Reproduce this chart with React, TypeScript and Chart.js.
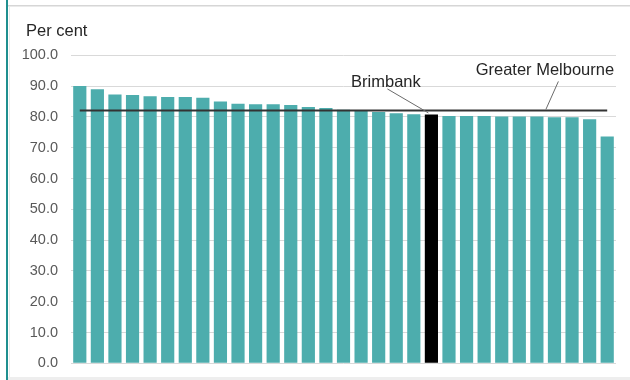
import React, { useEffect, useRef } from "react";
import { Chart, registerables } from "chart.js";

Chart.register(...registerables);

const categories: string[] = Array.from({ length: 31 }, (_, i) => `LGA ${i + 1}`);
categories[20] = "Brimbank";

const values: number[] = [
  90.0, 89.0, 87.3, 87.1, 86.7, 86.5, 86.5, 86.2, 85.0, 84.3, 84.1, 84.1, 83.9,
  83.2, 82.9, 82.3, 82.2, 81.6, 81.2, 80.9, 80.8, 80.3, 80.3, 80.3, 80.1, 80.1,
  80.1, 79.9, 79.9, 79.2, 73.6,
];

const greaterMelbourne = 82.1;
const highlightIndex = 20;
const yTicks: number[] = [0, 10, 20, 30, 40, 50, 60, 70, 80, 90, 100];

const TEAL = "#4DADAD";
const FONT = "'Liberation Sans', Arial, sans-serif";

const framePlugin = {
  id: "frame",
  beforeDraw(chart: any) {
    const ctx = chart.ctx;
    ctx.save();
    ctx.fillStyle = "#ffffff";
    ctx.fillRect(0, 0, chart.width, chart.height);
    ctx.fillStyle = "#d6d6d6";
    ctx.fillRect(7, 5, chart.width - 7, 1.5);
    ctx.strokeStyle = "#ebebeb";
    ctx.lineWidth = 1;
    ctx.beginPath();
    ctx.moveTo(9.5, 7);
    ctx.lineTo(9.5, chart.height - 3);
    ctx.stroke();
    ctx.fillStyle = "#eeeeee";
    ctx.fillRect(7, chart.height - 3, chart.width - 7, 3);
    ctx.fillStyle = "#1F8F8F";
    ctx.fillRect(6, 0, 2, chart.height);
    ctx.fillStyle = "#262626";
    ctx.font = `16.5px ${FONT}`;
    ctx.textAlign = "left";
    ctx.textBaseline = "alphabetic";
    ctx.fillText("Per cent", 26, 35.5);
    ctx.restore();
  },
};

const annotationPlugin = {
  id: "annots",
  afterDatasetsDraw(chart: any) {
    const ctx = chart.ctx;
    const xs = chart.scales.x;
    const ys = chart.scales.y;
    const bx = xs.getPixelForValue(highlightIndex);
    const by = ys.getPixelForValue(values[highlightIndex]);
    const my = ys.getPixelForValue(greaterMelbourne);
    const gx = xs.getPixelForValue(26) + 9;
    ctx.save();
    ctx.strokeStyle = "#6b6b6b";
    ctx.lineWidth = 1;
    ctx.beginPath();
    ctx.moveTo(bx - 44, by - 25.5);
    ctx.lineTo(bx - 3, by - 1.5);
    ctx.stroke();
    ctx.beginPath();
    ctx.moveTo(gx + 12.5, my - 29);
    ctx.lineTo(gx, my - 1);
    ctx.stroke();
    ctx.fillStyle = "#262626";
    ctx.font = `16.5px ${FONT}`;
    ctx.textAlign = "center";
    ctx.textBaseline = "alphabetic";
    ctx.fillText("Brimbank", bx - 45.5, by - 27.5);
    ctx.fillText("Greater Melbourne", gx - 1, my - 35);
    ctx.restore();
  },
};

export default function App() {
  const ref = useRef<HTMLCanvasElement | null>(null);
  useEffect(() => {
    if (!ref.current) return;
    const chart = new Chart(ref.current, {
      type: "bar",
      data: {
        labels: categories,
        datasets: [
          {
            type: "line",
            label: "Greater Melbourne",
            data: categories.map(() => greaterMelbourne),
            borderColor: "#333333",
            borderWidth: 2,
            pointRadius: 0,
            fill: false,
            order: 0,
          } as any,
          {
            type: "bar",
            label: "Per cent",
            data: values,
            backgroundColor: values.map((_, i) => (i === highlightIndex ? "#000000" : TEAL)),
            borderWidth: 0,
            barPercentage: 0.75,
            categoryPercentage: 1,
            order: 1,
          },
        ],
      },
      options: {
        responsive: false,
        animation: false,
        events: [],
        layout: { padding: { left: 11, right: 14, top: 55.3, bottom: 16.7 } },
        plugins: { legend: { display: false }, tooltip: { enabled: false }, title: { display: false } },
        scales: {
          x: {
            display: false,
          },
          y: {
            min: 0,
            max: 100,
            afterFit: (scale: any) => {
              scale.width = 60;
              scale.paddingTop = 0;
              scale.paddingBottom = 0;
            },
            afterBuildTicks: (scale: any) => {
              scale.ticks = yTicks.map((v) => ({ value: v }));
            },
            ticks: {
              padding: 13,
              color: "#595959",
              font: { family: FONT, size: 14.5 },
              callback: (v: any) => Number(v).toFixed(1),
            },
            grid: { color: "#d9d9d9", lineWidth: 1, drawTicks: false },
            border: { display: false },
          },
        },
      },
      plugins: [framePlugin, annotationPlugin],
    });
    return () => chart.destroy();
  }, []);
  return (
    <div style={{ position: "fixed", left: 0, top: 0, width: 630, height: 380, background: "#fff" }}>
      <canvas ref={ref} width={630} height={380} style={{ display: "block", width: 630, height: 380 }} />
    </div>
  );
}
